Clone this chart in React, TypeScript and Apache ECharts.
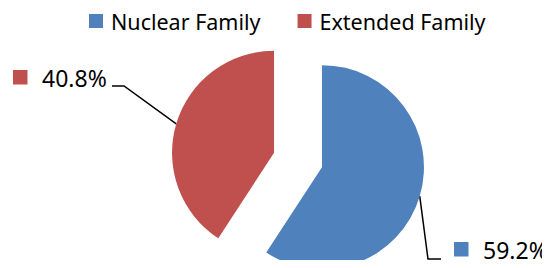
import React, { useEffect, useRef } from "react";
import * as echarts from "echarts";

const categories = ["Nuclear Family", "Extended Family"];
const values = [59.2, 40.8];
const colors = ["#4F81BD", "#C0504D"];

export default function App() {
  const ref = useRef<HTMLDivElement>(null);
  useEffect(() => {
    const chart = echarts.init(ref.current!, undefined, { renderer: "svg" });
    const font = "Noto Sans";
    const cx = 298;
    const cy = 160;
    const R = 102;
    const off = 25;
    const total = values.reduce((a, b) => a + b, 0);

    // anchor on the outer edge at each slice's mid-angle (clockwise from 12 o'clock)
    let acc = 0;
    const anchors = values.map((v) => {
      const mid = ((acc + v / 2) / total) * 2 * Math.PI;
      acc += v;
      const dx = Math.sin(mid);
      const dy = -Math.cos(mid);
      return [cx + dx * (R + off), cy + dy * (R + off)];
    });

    // label layout (positions of annotation boxes)
    const labelLayout = [
      { sqX: 454, midY: 249, elbow: [428, 259], end: [441, 259] },
      { sqX: 13, midY: 77, elbow: [124, 86], end: [112, 86] },
    ];

    const graphics: any[] = [];
    values.forEach((v, i) => {
      const L = labelLayout[i];
      graphics.push({
        type: "polyline",
        silent: true,
        shape: { points: [anchors[i], L.elbow, L.end] },
        style: { stroke: "#000", lineWidth: 1.5, fill: null },
      });
      graphics.push({
        type: "rect",
        silent: true,
        shape: { x: L.sqX, y: L.midY - 7, width: 14.5, height: 14.5 },
        style: { fill: colors[i] },
      });
      graphics.push({
        type: "text",
        silent: true,
        x: L.sqX + 29,
        y: L.midY + 1,
        style: {
          text: v.toFixed(1) + "%",
          fontFamily: font,
          fontSize: 23,
          fill: "#000",
          verticalAlign: "middle",
          align: "left",
        },
      });
    });

    chart.setOption({
      animation: false,
      legend: {
        top: 5,
        left: 84,
        icon: "rect",
        itemWidth: 14,
        itemHeight: 14,
        itemGap: 37,
        selectedMode: false,
        textStyle: { fontFamily: font, fontSize: 21.5, color: "#000", lineHeight: 22, padding: [0, 0, 0, 3] },
        data: categories,
      },
      graphic: graphics,
      series: [
        {
          type: "pie",
          center: [cx, cy],
          radius: R,
          startAngle: 90,
          clockwise: true,
          selectedMode: "multiple",
          selectedOffset: off,
          emphasis: { disabled: true },
          label: { show: false },
          labelLine: { show: false },
          data: categories.map((c, i) => ({
            name: c,
            value: values[i],
            selected: true,
            itemStyle: { color: colors[i] },
          })),
        },
      ],
    });
    return () => chart.dispose();
  }, []);
  return <div ref={ref} style={{ width: 550, height: 268, margin: -8 }} />;
}
